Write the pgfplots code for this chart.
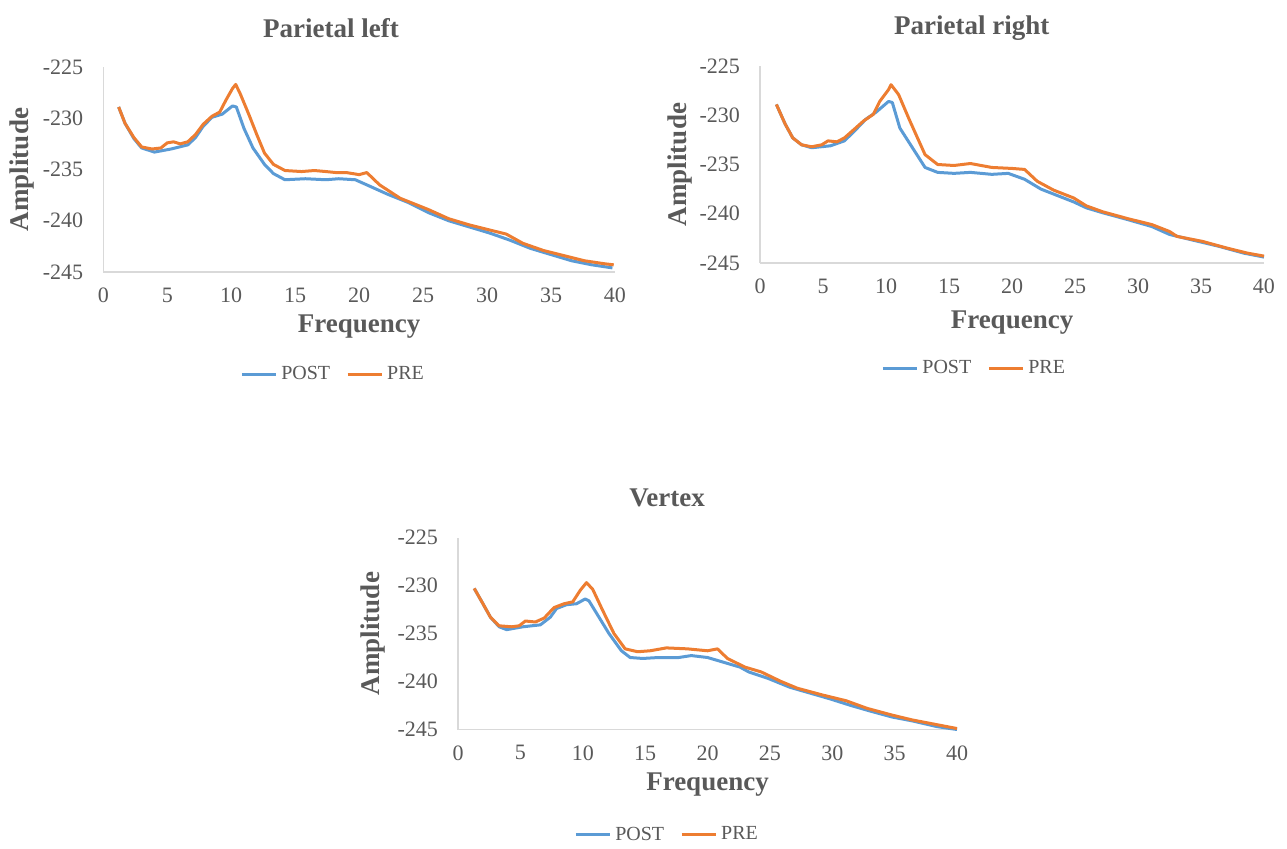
\documentclass[border=0pt]{standalone}
\usepackage{pgfplots}
\pgfplotsset{compat=1.18}
\usepackage{fontspec}
\setmainfont{Liberation Serif}
\definecolor{postblue}{HTML}{5B9BD5}
\definecolor{preorange}{HTML}{ED7D31}
\definecolor{txt}{HTML}{595959}
\definecolor{axisgray}{HTML}{D9D9D9}

\pgfplotstableread{
x y
1.2 -228.9
1.7 -230.5
2.4 -232.0
3.0 -232.9
4.0 -233.3
5.3 -233.0
6.6 -232.6
7.2 -231.9
7.8 -230.8
8.5 -229.9
9.3 -229.6
10.1 -228.8
10.4 -228.9
11.0 -231.0
11.7 -232.9
12.6 -234.5
13.3 -235.4
14.2 -236.0
15.8 -235.9
17.4 -236.0
18.4 -235.9
19.7 -236.0
20.6 -236.5
22.2 -237.4
23.8 -238.2
25.4 -239.2
27.0 -240.0
28.6 -240.6
30.2 -241.2
31.8 -241.9
33.4 -242.7
35.0 -243.3
36.6 -243.9
38.2 -244.3
39.8 -244.6
}\leftpost
\pgfplotstableread{
x y
1.2 -228.9
1.7 -230.5
2.4 -231.9
3.0 -232.8
3.8 -233.0
4.5 -232.9
5.0 -232.4
5.5 -232.3
6.0 -232.5
6.6 -232.3
7.2 -231.6
7.8 -230.6
8.5 -229.8
9.1 -229.4
9.6 -228.2
10.1 -227.1
10.35 -226.7
10.7 -227.6
11.4 -229.7
12.0 -231.6
12.6 -233.4
13.3 -234.5
14.2 -235.1
15.5 -235.2
16.5 -235.1
17.4 -235.2
18.2 -235.3
19.0 -235.3
20.0 -235.5
20.6 -235.3
21.6 -236.5
23.2 -237.8
25.4 -238.9
27.0 -239.8
28.6 -240.4
30.2 -240.9
31.5 -241.3
32.8 -242.2
34.4 -242.9
36.0 -243.4
37.6 -243.9
39.2 -244.2
39.9 -244.3
}\leftpre
\pgfplotstableread{
x y
1.3 -228.9
2.0 -230.9
2.6 -232.3
3.3 -233.0
4.1 -233.3
5.6 -233.1
6.7 -232.6
7.5 -231.6
8.4 -230.4
9.2 -229.7
10.2 -228.6
10.5 -228.7
11.1 -231.3
12.1 -233.3
13.1 -235.3
14.1 -235.8
15.4 -235.9
16.7 -235.8
18.4 -236.0
19.7 -235.9
21.0 -236.5
22.3 -237.5
23.3 -238.0
24.9 -238.8
25.9 -239.4
27.2 -239.9
29.2 -240.6
31.1 -241.3
32.5 -242.1
34.1 -242.6
36.4 -243.3
38.4 -244.0
40.0 -244.4
}\rightpost
\pgfplotstableread{
x y
1.3 -228.9
2.0 -230.9
2.6 -232.3
3.3 -233.0
4.1 -233.2
4.9 -233.0
5.4 -232.6
6.1 -232.7
6.7 -232.3
7.5 -231.4
8.2 -230.6
9.0 -229.9
9.5 -228.6
10.2 -227.4
10.4 -226.9
11.0 -227.9
11.8 -230.3
12.5 -232.3
13.1 -234.0
14.1 -235.0
15.4 -235.1
16.7 -234.9
18.4 -235.3
20.0 -235.4
21.0 -235.5
22.0 -236.7
23.3 -237.6
24.9 -238.4
25.9 -239.2
27.2 -239.8
29.2 -240.5
31.1 -241.1
32.5 -241.8
33.1 -242.3
35.1 -242.8
37.1 -243.5
38.7 -244.0
40.0 -244.3
}\rightpre
\pgfplotstableread{
x y
1.3 -230.3
2.0 -231.9
2.6 -233.3
3.3 -234.3
3.9 -234.6
5.2 -234.3
6.6 -234.1
7.4 -233.3
7.9 -232.4
8.7 -232.0
9.5 -231.9
10.2 -231.4
10.5 -231.6
11.3 -233.3
12.1 -235.0
13.1 -236.8
13.8 -237.5
14.8 -237.6
16.1 -237.5
17.7 -237.5
18.7 -237.3
20.0 -237.5
21.3 -238.0
22.6 -238.5
23.3 -239.0
24.9 -239.7
26.6 -240.6
28.2 -241.2
29.8 -241.8
31.5 -242.5
33.1 -243.1
34.8 -243.7
36.4 -244.1
38.4 -244.7
40.0 -245.0
}\vertexpost
\pgfplotstableread{
x y
1.3 -230.3
2.0 -231.9
2.6 -233.3
3.3 -234.2
4.3 -234.3
4.9 -234.2
5.4 -233.7
6.2 -233.8
6.9 -233.4
7.7 -232.3
8.5 -231.9
9.2 -231.7
9.8 -230.5
10.3 -229.7
10.8 -230.4
11.6 -232.6
12.5 -235.0
13.4 -236.6
14.4 -236.9
15.4 -236.8
16.7 -236.5
18.4 -236.6
20.0 -236.8
20.8 -236.6
21.6 -237.6
23.0 -238.5
24.3 -239.0
25.9 -240.0
27.2 -240.7
29.2 -241.4
31.1 -242.0
32.8 -242.8
34.8 -243.5
36.4 -244.0
38.0 -244.4
40.0 -244.9
}\vertexpre

\pgfplotsset{
  every axis title/.style={font=\fontsize{13.5}{16}\selectfont\bfseries, text=txt, anchor=center},
  panel/.style={
    scale only axis,
    anchor=south west,
    xmin=0, xmax=40, ymin=-245, ymax=-225,
    xtick={0,5,...,40}, ytick={-245,-240,...,-225},
    axis x line=bottom, axis y line=left,
    axis line style={draw=axisgray, line width=0.6pt, -},
    major tick length=0pt,
    tick style={draw=none},
    /pgf/number format/assume math mode=true,
    ticklabel style={font=\fontsize{11}{13}\selectfont, text=txt},
    xticklabel style={yshift=-4.5pt},
    yticklabel style={xshift=-6.5pt},
    label style={font=\fontsize{13.5}{16}\selectfont\bfseries, text=txt},
    xlabel={Frequency}, ylabel={Amplitude},
    legend columns=2,
    legend style={draw=none, fill=none, font=\fontsize{10}{12}\selectfont, text=txt, anchor=center,
      /tikz/every even column/.append style={column sep=6pt}},
    legend image code/.code={\draw[#1, line width=1.5pt] (0pt,0pt) -- (17pt,0pt);},
    clip=false,
  },
  postline/.style={color=postblue, line width=1.5pt, line join=round},
  preline/.style={color=preorange, line width=1.5pt, line join=round},
}

\begin{document}
\begin{tikzpicture}
\path[use as bounding box] (0,0) rectangle (643.5pt,424pt);

\begin{axis}[panel, at={(51.65pt,288pt)}, width=255.85pt, height=102.5pt,
  title={Parietal left}, title style={at={(axis description cs:0.445,1.19)}},
  xlabel style={at={(axis description cs:0.5,-0.268)}, anchor=center},
  ylabel style={at={(axis description cs:-0.159,0.5)}, anchor=center},
  legend style={at={(axis description cs:0.451,-0.498)}}]
\addplot[postline] table {\leftpost};
\addplot[preline] table {\leftpre};
\legend{POST,PRE}
\end{axis}

\begin{axis}[panel, at={(380pt,292.5pt)}, width=252pt, height=98.5pt,
  title={Parietal right}, title style={at={(axis description cs:0.42,1.193)}},
  xlabel style={at={(axis description cs:0.5,-0.30)}, anchor=center},
  ylabel style={at={(axis description cs:-0.159,0.5)}, anchor=center},
  legend style={at={(axis description cs:0.427,-0.533)}}]
\addplot[postline] table {\rightpost};
\addplot[preline] table {\rightpre};
\legend{POST,PRE}
\end{axis}

\begin{axis}[panel, at={(229pt,59.25pt)}, width=249.5pt, height=96pt,
  title={Vertex}, title style={at={(axis description cs:0.419,1.208)}},
  xlabel style={at={(axis description cs:0.5,-0.289)}, anchor=center},
  ylabel style={at={(axis description cs:-0.17,0.5)}, anchor=center},
  legend style={at={(axis description cs:0.421,-0.549)}}]
\addplot[postline] table {\vertexpost};
\addplot[preline] table {\vertexpre};
\legend{POST,PRE}
\end{axis}
\end{tikzpicture}
\end{document}
